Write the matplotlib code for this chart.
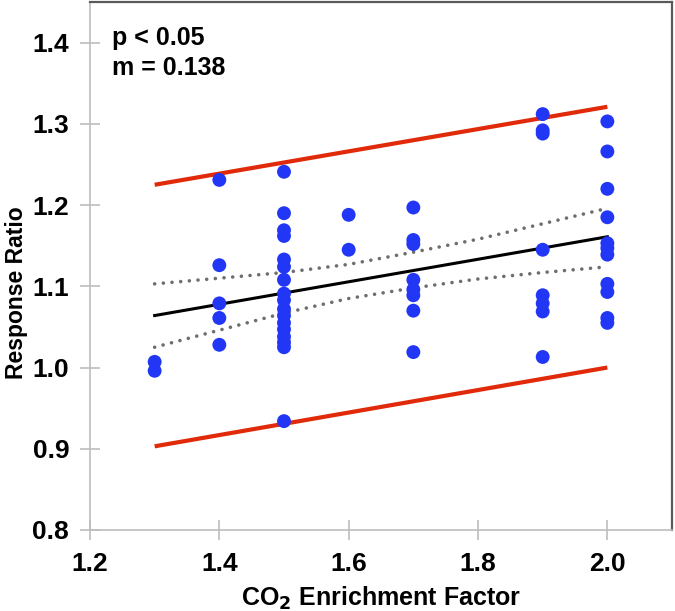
import matplotlib

matplotlib.use("Agg")
import matplotlib.pyplot as plt

plt.rcParams["font.family"] = ["Liberation Sans", "DejaVu Sans"]

# Observations (CO2 enrichment factor, response ratio)
enrich_x = (
    [1.3] * 2 + [1.4] * 5 + [1.5] * 17 + [1.6] * 2 + [1.7] * 8
    + [1.9] * 8 + [2.0] * 11
)
response_y = (
    [1.007, 0.996]
    + [1.231, 1.126, 1.079, 1.061, 1.028]
    + [1.241, 1.190, 1.169, 1.162, 1.133, 1.124, 1.108, 1.091, 1.083,
       1.072, 1.064, 1.055, 1.047, 1.038, 1.031, 1.025, 0.934]
    + [1.188, 1.145]
    + [1.197, 1.157, 1.152, 1.108, 1.096, 1.089, 1.070, 1.019]
    + [1.312, 1.292, 1.288, 1.145, 1.089, 1.079, 1.069, 1.013]
    + [1.303, 1.266, 1.220, 1.185, 1.153, 1.147, 1.139, 1.103, 1.093,
       1.061, 1.055]
)

# Regression fit and bands
line_x = [1.3, 2.0]
fit_y = [1.064, 1.161]
pred_upper = [1.225, 1.321]
pred_lower = [0.903, 1.000]

ci_x = [1.3, 1.4, 1.5, 1.6, 1.7, 1.8, 1.9, 2.0]
ci_upper = [1.103, 1.110, 1.117, 1.127, 1.142, 1.158, 1.177, 1.196]
ci_lower = [1.025, 1.046, 1.067, 1.085, 1.098, 1.109, 1.117, 1.124]

x_ticks = [1.2, 1.4, 1.6, 1.8, 2.0]
y_ticks = [0.8, 0.9, 1.0, 1.1, 1.2, 1.3, 1.4]

BLUE = "#2236F5"
RED = "#E02A0A"
DOT_GRAY = "#6E6E6E"
LIGHT = "#BDBDBD"
DARK = "#5A5A5A"

fig = plt.figure(figsize=(6.75, 6.11), dpi=100)
ax = fig.add_axes([0.1333, 0.1326, 0.8623, 0.8641])

ax.plot(line_x, pred_upper, color=RED, linewidth=3.0, solid_capstyle="butt", zorder=2)
ax.plot(line_x, pred_lower, color=RED, linewidth=3.0, solid_capstyle="butt", zorder=2)
ax.plot(line_x, fit_y, color="black", linewidth=2.2, zorder=2)
for band in (ci_upper, ci_lower):
    ax.plot(ci_x, band, color=DOT_GRAY, linewidth=2.6,
            linestyle=(0, (0.01, 2.4)), dash_capstyle="round", zorder=2)

ax.scatter(enrich_x, response_y, s=100, color=BLUE, edgecolors="none", zorder=3)

ax.set_xlim(1.2, 2.1)
ax.set_ylim(0.8, 1.45)
ax.set_xticks(x_ticks)
ax.set_xticklabels([f"{v:.1f}" for v in x_ticks])
ax.set_yticks(y_ticks)
ax.set_yticklabels([f"{v:.1f}" for v in y_ticks])

for side in ("left", "bottom"):
    ax.spines[side].set_color(LIGHT)
    ax.spines[side].set_linewidth(1.2)
for side in ("top", "right"):
    ax.spines[side].set_color(DARK)
    ax.spines[side].set_linewidth(1.6)

ax.tick_params(axis="both", direction="inout", length=14, width=1.2,
               color=LIGHT, labelsize=19)
ax.tick_params(axis="y", pad=8)
ax.tick_params(axis="x", pad=9)
for lab in ax.get_xticklabels() + ax.get_yticklabels():
    lab.set_fontweight("bold")

ax.set_xlabel("CO$_\\mathbf{2}$ Enrichment Factor", fontsize=18, fontweight="bold", labelpad=6)
ax.set_ylabel("Response Ratio", fontsize=16.5, fontweight="bold")
ax.yaxis.set_label_coords(-0.106, 0.45)

ax.text(0.037, 0.919, "p < 0.05", transform=ax.transAxes, fontsize=18,
        fontweight="bold", va="baseline", ha="left")
ax.text(0.037, 0.862, "m = 0.138", transform=ax.transAxes, fontsize=18,
        fontweight="bold", va="baseline", ha="left")

fig.savefig("out.png", dpi=100, facecolor="white")
